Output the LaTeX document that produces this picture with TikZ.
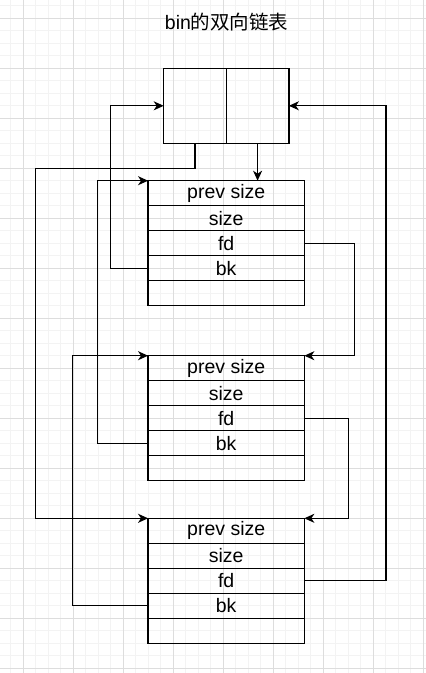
\documentclass[tikz,border=0pt]{standalone}
\usepackage{fontspec}
\setmainfont{Liberation Sans}
\newfontfamily\cjk{Noto Sans CJK SC}
\usetikzlibrary{arrows.meta, positioning}
\definecolor{gridminor}{HTML}{F3F3F3}
\definecolor{gridmajor}{HTML}{DDDDDD}
\tikzset{
  field/.style={
    rectangle, draw=black, line width=1.3pt, outer sep=0pt,
    minimum width=156.3pt, minimum height=25pt, inner sep=0pt,
    font=\fontsize{19.5}{22}\selectfont
  },
  half/.style={
    rectangle, draw=black, line width=1.3pt, outer sep=0pt,
    minimum width=62.6pt, minimum height=75pt, inner sep=0pt
  },
  link/.style={-{Stealth[length=10pt, width=9pt, inset=3pt]},
    line width=1.3pt, black}
}

\begin{document}
\begin{tikzpicture}[x=1pt, y=-1pt]
  \useasboundingbox (0,0) rectangle (426,673);
  % grid
  \foreach \x in {10.8,23.3,...,426} \draw[gridminor, line width=1pt] (\x,0) -- (\x,673);
  \foreach \y in {5.8,18.3,...,673} \draw[gridminor, line width=1pt] (0,\y) -- (426,\y);
  \foreach \x in {23.3,73.3,...,426} \draw[gridmajor, line width=1pt] (\x,0) -- (\x,673);
  \foreach \y in {18.3,68.3,...,673} \draw[gridmajor, line width=1pt] (0,\y) -- (426,\y);

  \node[font=\fontsize{19.5}{22}\selectfont] (title) at (226.7,21.7)
    {bin{\cjk 的双向链表}};

  % bin head
  \node[half] (hl) at (195,105.8) {};
  \node[half, right=0pt of hl] (hr) {};

  % chunks
  \foreach \c/\top in {1/180.7,2/355.7,3/518.3}{%
    \foreach \r/\t [count=\i from 0] in {prev/prev size,size/size,fd/fd,bk/bk,pad/{}}{%
      \node[field] (c\c\r) at (226.2,\top+12.5+25*\i) {\t};}}

  \coordinate (xa) at (35.7,0);
  \coordinate (xb) at (72.7,0);
  \coordinate (xc) at (97.7,0);
  \coordinate (xd) at (110.3,0);
  \coordinate (xe) at (348.3,0);
  \coordinate (xf) at (354.3,0);
  \coordinate (xg) at (386,0);

  \draw[link] (hl.south) -- ++(0,25) -| (xa |- c3prev.north west) -- (c3prev.north west);
  \draw[link] (hr.south) -- (hr.south |- c1prev.north);
  \draw[link] (c1bk.west) -| (xd |- hl.west) -- (hl.west);
  \draw[link] (c1fd.east) -| (xf |- c2prev.north east) -- (c2prev.north east);
  \draw[link] (c2bk.west) -| (xc |- c1prev.north west) -- (c1prev.north west);
  \draw[link] (c2fd.east) -| (xe |- c3prev.north east) -- (c3prev.north east);
  \draw[link] (c3bk.west) -| (xb |- c2prev.north west) -- (c2prev.north west);
  \draw[link] (c3fd.east) -| (xg |- hr.east) -- (hr.east);
\end{tikzpicture}
\end{document}
